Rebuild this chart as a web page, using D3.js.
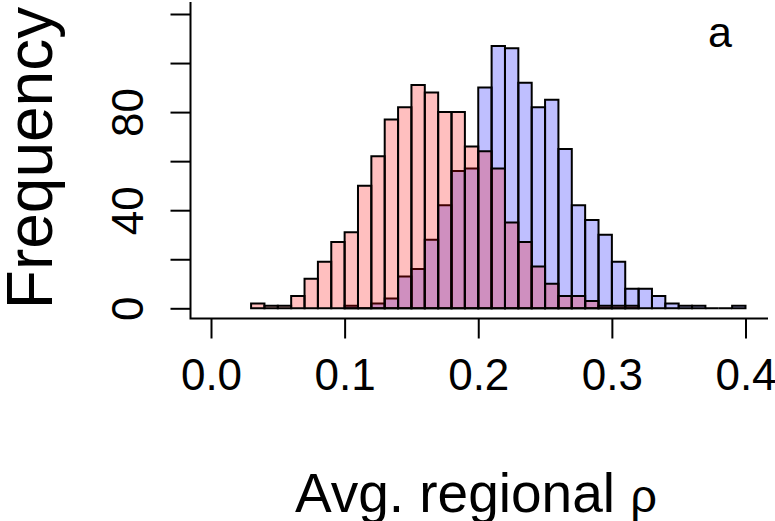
<!DOCTYPE html>
<html>
<head>
<meta charset="utf-8">
<script src="https://cdn.jsdelivr.net/npm/d3@7"></script>
<style>
  body { margin: 0; background: #fff; }
  svg { display: block; font-family: "Liberation Sans", Arial, sans-serif; }
</style>
</head>
<body>
<div id="chart"></div>
<script>
// Histogram data: lower bin edges and counts (bin width 0.01)
var redBins = [0.03, 0.04, 0.05, 0.06, 0.07, 0.08, 0.09, 0.10, 0.11, 0.12,
               0.13, 0.14, 0.15, 0.16, 0.17, 0.18, 0.19, 0.20, 0.21, 0.22,
               0.23, 0.24, 0.25, 0.26, 0.27, 0.28, 0.29, 0.30, 0.31];
var redCounts = [2, 1, 1, 5, 12, 19, 27, 31, 50, 62,
                 77, 82, 91, 88, 80, 80, 66, 64, 57, 35,
                 27, 17, 10, 5, 5, 3, 1, 1, 1];

var blueBins = [0.10, 0.11, 0.12, 0.13, 0.14, 0.15, 0.16, 0.17, 0.18, 0.19,
                0.20, 0.21, 0.22, 0.23, 0.24, 0.25, 0.26, 0.27, 0.28, 0.29,
                0.30, 0.31, 0.32, 0.33, 0.34, 0.35, 0.36, 0.37, 0.38, 0.39];
var blueCounts = [1, 0, 2, 4, 13, 16, 28, 42, 56, 57,
                  90, 107, 106, 92, 82, 85, 65, 42, 36, 30,
                  19, 8, 8, 5, 2, 1, 1, 0, 0, 1];
var binWidth = 0.01;

var xTicks = [0, 0.1, 0.2, 0.3, 0.4];
var yTicks = [0, 20, 40, 60, 80, 100, 120];
var yLabelled = [0, 40, 80];

var svgWidth = 775;
var svgHeight = 521;

var svg = d3.select("#chart")
  .append("svg")
  .attr("width", svgWidth)
  .attr("height", svgHeight);

// plot box (R style, bty = "l")
var box = { left: 190.5, right: 768, top: 2, bottom: 318.5 };

var xScale = d3.scaleLinear().domain([0, 0.4]).range([211, 745.5]);
var yScale = d3.scaleLinear().domain([0, 120]).range([308.3, 14]);

function barPath(x0, count) {
  var xa = xScale(x0), xb = xScale(x0 + binWidth);
  var y0 = yScale(0), y1 = yScale(count);
  return `M${xa},${y0}V${y1}H${xb}V${y0}Z`;
}

// blue histogram first, red drawn on top
svg.append("g")
  .selectAll("path")
  .data(blueBins.map((b, i) => ({ x0: b, n: blueCounts[i] })))
  .enter()
  .append("path")
  .attr("d", d => barPath(d.x0, d.n))
  .attr("fill", "rgba(0,0,255,0.25)")
  .attr("stroke", "#000")
  .attr("stroke-width", 2);

svg.append("g")
  .selectAll("path")
  .data(redBins.map((b, i) => ({ x0: b, n: redCounts[i] })))
  .enter()
  .append("path")
  .attr("d", d => barPath(d.x0, d.n))
  .attr("fill", "rgba(255,0,0,0.25)")
  .attr("stroke", "#000")
  .attr("stroke-width", 2);

// L-shaped box
svg.append("path")
  .attr("d", `M${box.left},${box.top}V${box.bottom}H${box.right}`)
  .attr("fill", "none")
  .attr("stroke", "#000")
  .attr("stroke-width", 2);

// x axis
var xAxis = svg.append("g")
  .attr("transform", `translate(0, ${box.bottom})`)
  .call(d3.axisBottom(xScale)
    .tickValues(xTicks)
    .tickSize(20)
    .tickSizeOuter(0)
    .tickFormat(d3.format(".1f")));
xAxis.select(".domain").remove();
xAxis.selectAll("line").attr("stroke", "#000").attr("stroke-width", 2);
xAxis.selectAll("text")
  .attr("y", 71.5)
  .attr("dy", 0)
  .attr("fill", "#000")
  .style("font-size", "44px")
  .style("font-family", "Liberation Sans, Arial, sans-serif");

// y axis
var yAxis = svg.append("g")
  .attr("transform", `translate(${box.left}, 0)`)
  .call(d3.axisLeft(yScale)
    .tickValues(yTicks)
    .tickSize(20)
    .tickSizeOuter(0)
    .tickFormat(d => yLabelled.indexOf(d) >= 0 ? d : ""));
yAxis.select(".domain").remove();
yAxis.selectAll("line").attr("stroke", "#000").attr("stroke-width", 2);
yAxis.selectAll("text")
  .attr("transform", "rotate(-90)")
  .attr("x", 0)
  .attr("y", -47.5)
  .attr("dy", 0)
  .attr("text-anchor", "middle")
  .attr("fill", "#000")
  .style("font-size", "44px")
  .style("font-family", "Liberation Sans, Arial, sans-serif");

// axis labels
svg.append("text")
  .attr("transform", "translate(52, 158) rotate(-90)")
  .attr("text-anchor", "middle")
  .style("font-size", "64px")
  .text("Frequency");

var xl = svg.append("text")
  .attr("x", 476)
  .attr("y", 512)
  .attr("text-anchor", "middle")
  .style("font-size", "55px");
xl.append("tspan").text("Avg. regional ");
xl.append("tspan").style("font-size", "47px").text("ρ");

// panel letter
svg.append("text")
  .attr("x", 720)
  .attr("y", 47)
  .attr("text-anchor", "middle")
  .style("font-size", "43px")
  .text("a");
</script>
</body>
</html>
